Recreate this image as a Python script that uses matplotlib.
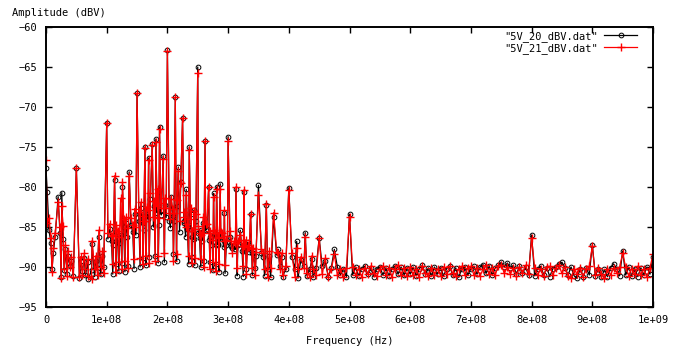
import matplotlib
matplotlib.use("Agg")
import matplotlib.pyplot as plt
import numpy as np

plt.rcParams['font.family'] = ['DejaVu Sans Mono']
plt.rcParams['font.size'] = 7.5

# noise floor, one value every 5 MHz from 0 to 1000 MHz (dBV)
floor_20 = [
    -85.0, -88.0, -90.2, -91.0, -90.0, -91.3, -90.4, -90.9, -89.9, -91.1,
    -90.3, -91.4, -90.5, -91.0, -91.5, -90.4, -91.2, -90.1, -90.9, -90.0,
    -90.6, -89.7, -90.9, -89.6, -90.5, -89.5, -90.6, -89.9, -89.3, -90.2,
    -89.2, -90.0, -88.9, -89.8, -88.7, -89.6, -88.6, -89.5, -88.5, -89.4,
    -88.6, -89.4, -88.4, -89.3, -88.5, -89.5, -88.7, -89.6, -88.8, -89.8,
    -89.0, -90.0, -89.2, -90.2, -89.4, -90.4, -89.6, -90.6, -89.8, -90.8,
    -89.9, -90.9, -90.0, -91.1, -90.1, -91.2, -90.2, -89.8, -91.0, -90.1,
    -90.9, -90.0, -91.1, -90.2, -91.3, -90.1, -91.0, -89.9, -91.2, -90.2,
    -90.1, -91.1, -90.2, -91.4, -90.3, -89.9, -91.1, -90.2, -91.3, -90.1,
    -91.0, -89.9, -90.9, -91.2, -90.1, -91.1, -90.0, -91.0, -90.2, -91.2,
    -90.1, -91.0, -90.0, -91.1, -90.2, -89.9, -90.9, -90.1, -91.2, -90.2,
    -90.0, -91.0, -90.1, -91.1, -90.2, -89.9, -90.9, -90.0, -91.0, -90.1,
    -90.9, -90.0, -91.1, -90.2, -89.8, -90.9, -90.1, -91.1, -90.0, -90.9,
    -90.1, -91.1, -90.2, -89.9, -91.0, -90.1, -91.3, -90.2, -90.0, -91.0,
    -90.2, -89.9, -90.9, -90.0, -89.7, -90.8, -89.9, -91.0, -90.1, -89.8,
    -89.4, -90.0, -89.5, -90.1, -89.8, -90.9, -89.9, -90.8, -90.0, -91.0,
    -90.1, -91.1, -90.2, -89.9, -91.0, -90.1, -91.2, -90.2, -90.0, -89.6,
    -89.4, -90.1, -91.0, -90.0, -91.1, -91.4, -90.2, -91.2, -90.1, -91.0,
    -90.0, -91.1, -90.2, -91.3, -90.3, -91.2, -90.1, -89.6, -90.2, -91.1,
    -90.1, -91.0, -90.0, -91.1, -90.2, -91.2, -90.1, -91.0, -90.0, -90.9,
    -90.2,
]
floor_21 = [
    -84.0, -87.5, -90.6, -91.2, -90.1, -91.4, -90.3, -91.1, -90.0, -91.3,
    -90.5, -91.2, -91.0, -90.2, -91.1, -91.5, -90.3, -91.0, -90.0, -90.8,
    -89.8, -90.7, -89.6, -90.6, -89.4, -90.3, -89.2, -90.1, -89.3, -89.0,
    -89.8, -88.9, -89.6, -88.6, -89.5, -88.4, -89.3, -88.6, -89.4, -88.3,
    -89.2, -88.5, -89.3, -88.4, -89.1, -88.5, -89.4, -88.6, -89.5, -88.9,
    -89.8, -89.0, -90.0, -89.2, -90.3, -89.4, -90.5, -89.6, -90.7, -89.8,
    -90.8, -90.0, -91.0, -90.1, -91.2, -89.9, -90.9, -91.3, -90.1, -91.0,
    -90.0, -91.1, -90.2, -91.2, -90.1, -90.9, -91.3, -90.2, -91.0, -89.9,
    -90.8, -90.1, -91.2, -90.2, -91.0, -90.1, -90.7, -91.2, -90.2, -91.0,
    -89.9, -90.9, -90.1, -91.2, -90.3, -89.8, -91.0, -90.2, -91.3, -90.1,
    -90.7, -90.0, -91.0, -90.2, -91.2, -90.1, -90.9, -89.9, -90.8, -91.1,
    -90.2, -89.9, -91.0, -90.1, -91.2, -90.2, -89.8, -91.0, -90.1, -91.1,
    -90.0, -91.0, -90.2, -91.2, -89.9, -90.8, -91.1, -90.1, -91.0, -90.2,
    -91.1, -90.0, -90.9, -89.9, -90.8, -91.1, -90.2, -89.9, -91.0, -90.1,
    -89.9, -91.0, -90.1, -91.1, -90.3, -89.8, -90.9, -90.1, -91.0, -89.9,
    -89.7, -90.8, -90.0, -90.9, -90.1, -91.1, -90.0, -90.8, -89.8, -90.9,
    -90.9, -90.1, -91.0, -90.2, -91.1, -90.0, -89.9, -91.0, -90.1, -89.8,
    -90.8, -90.0, -91.1, -91.4, -90.2, -90.9, -90.1, -91.2, -90.3, -89.9,
    -90.4, -91.0, -90.1, -90.9, -91.4, -90.2, -91.0, -90.1, -90.7, -90.0,
    -90.8, -90.0, -91.1, -90.2, -90.9, -89.9, -91.0, -90.2, -91.3, -90.1,
    -90.3,
]

# spurs (MHz, 5V_20 level, 5V_21 level)
spur_f = [0, 2, 5, 20, 26, 28, 50, 76, 87, 100, 113, 123, 126, 137, 150,
          163, 169, 175, 181, 187, 193, 200, 206, 213, 218, 222, 225, 231,
          236, 244, 250, 256, 262, 268, 276, 281, 287, 294, 300, 307, 313,
          320, 326, 332, 337, 350, 363, 375, 383, 400, 413, 427, 450, 475,
          500, 800, 900, 950, 1000]
spur_20 = [-77.6, -80.6, -85.4, -81.2, -80.7, -86.5, -77.6, -87.1, -86.2,
           -72.0, -79.1, -86.0, -80.0, -78.1, -68.3, -75.0, -76.4, -74.6,
           -74.0, -72.5, -76.1, -62.9, -81.2, -68.8, -77.5, -79.4, -71.4,
           -80.3, -75.0, -82.9, -65.0, -85.4, -74.3, -80.0, -80.8, -80.0,
           -79.6, -83.3, -73.7, -87.6, -80.3, -85.4, -80.6, -86.9, -83.4,
           -79.8, -82.2, -83.8, -87.8, -80.1, -86.8, -85.7, -86.4, -87.8,
           -83.4, -86.0, -87.2, -88.0, -88.8]
spur_21 = [-76.6, -84.5, -83.9, -81.9, -82.4, -84.9, -77.6, -86.7, -85.4,
           -72.0, -78.6, -81.4, -79.4, -78.6, -68.3, -75.1, -76.6, -74.7,
           -74.4, -72.8, -76.5, -63.0, -81.5, -68.8, -78.0, -79.5, -71.4,
           -81.0, -75.4, -83.0, -65.7, -86.0, -74.3, -80.0, -81.2, -80.3,
           -80.2, -82.9, -74.3, -88.2, -80.0, -86.0, -80.4, -87.5, -83.4,
           -81.0, -82.1, -83.2, -88.2, -80.4, -87.6, -86.2, -86.4, -88.4,
           -83.7, -86.4, -87.4, -88.3, -88.4]

# smaller spurs in the crowded 0-460 MHz band
minor_f = [8, 12, 15, 23, 32, 36, 42, 57, 63, 69, 82, 93, 105, 108, 118,
           131, 143, 146, 156, 159, 166, 172, 178, 184, 190, 196, 203, 209,
           216, 228, 233, 239, 241, 247, 253, 259, 265, 271, 274, 279, 284,
           290, 297, 303, 310, 316, 323, 329, 335, 341, 346, 355, 358, 368,
           380, 388, 405, 420, 438, 460,
           102, 111, 116, 121, 128, 134, 140, 148, 153, 161, 168, 177, 183,
           186, 189, 198, 205, 211, 220, 227, 230, 238, 243, 251, 257, 263,
           269, 277, 283, 288, 293, 299, 305, 312, 318, 327, 333, 339]
minor_20 = [-87.0, -88.3, -86.2, -85.8, -87.8, -88.6, -89.2, -89.3, -88.9,
            -89.4, -89.2, -88.6, -85.3, -86.8, -86.4, -84.5, -85.6, -83.4,
            -82.6, -84.5, -83.4, -81.5, -82.4, -80.6, -83.5, -82.3, -84.2,
            -83.6, -82.4, -84.5, -85.2, -83.4, -86.3, -84.2, -86.4, -84.5,
            -85.3, -86.2, -87.3, -86.4, -87.1, -86.5, -87.3, -86.2, -87.4,
            -87.3, -88.0, -87.2, -88.1, -88.2, -88.6, -88.3, -88.7, -88.6,
            -88.5, -88.8, -88.7, -89.1, -89.0, -89.3,
            -86.5, -87.2, -85.6, -87.0, -85.0, -86.2, -84.8, -86.0, -84.2,
            -85.4, -84.0, -85.0, -83.2, -84.8, -82.9, -83.8, -85.1, -84.3,
            -85.6, -84.2, -86.2, -85.2, -86.5, -85.8, -86.7, -85.4, -86.6,
            -86.0, -87.2, -86.3, -87.5, -86.9, -87.4, -87.8, -87.1, -88.0,
            -87.7, -88.3]
minor_21 = [-86.4, -87.6, -85.8, -85.0, -87.2, -88.0, -88.8, -88.7, -88.3,
            -89.0, -88.6, -88.0, -84.6, -86.1, -85.5, -83.8, -84.7, -82.7,
            -81.9, -83.6, -82.5, -80.8, -81.7, -80.2, -82.6, -81.4, -83.3,
            -82.8, -81.6, -83.7, -84.6, -82.6, -85.5, -83.4, -85.7, -83.8,
            -84.6, -85.5, -86.6, -85.7, -86.4, -85.8, -86.6, -85.5, -86.8,
            -86.7, -87.4, -86.6, -87.5, -87.6, -88.1, -87.8, -88.2, -88.0,
            -88.1, -88.3, -88.3, -88.7, -88.6, -88.9,
            -85.8, -86.0, -84.8, -86.2, -84.0, -85.1, -83.9, -85.0, -83.1,
            -84.2, -82.9, -83.8, -82.4, -83.9, -82.0, -82.6, -84.0, -83.2,
            -84.3, -83.1, -85.0, -84.0, -85.3, -84.9, -85.8, -84.6, -85.7,
            -85.4, -86.3, -85.6, -86.8, -86.1, -86.7, -87.0, -86.6, -87.4,
            -87.3, -87.8]


def build(floor, spur, minor):
    pts = {5 * i: v for i, v in enumerate(floor)}
    pts.update(dict(zip(minor_f, minor)))
    pts.update(dict(zip(spur_f, spur)))
    keys = sorted(pts)
    return np.array(keys) * 1e6, np.array([pts[k] for k in keys])


f20, a20 = build(floor_20, spur_20, minor_20)
f21, a21 = build(floor_21, spur_21, minor_21)

fig = plt.figure(figsize=(6.81, 3.49), dpi=100)
ax = fig.add_axes([46 / 681, 42 / 349, 607 / 681, 280 / 349])

ax.plot(f20, a20, color='black', lw=0.9, marker='o', ms=3.4, mfc='none',
        mew=0.7, label='"5V_20_dBV.dat"')
ax.plot(f21, a21, color='red', lw=0.9, marker='+', ms=5.2, mew=1.0,
        label='"5V_21_dBV.dat"')

ax.set_xlim(0, 1e9)
ax.set_ylim(-95, -60)
ax.set_xticks(np.arange(0, 1.01e9, 1e8))
ax.set_xticklabels(['0'] + ['%de+08' % i for i in range(1, 10)] + ['1e+09'])
ax.set_yticks(np.arange(-95, -59, 5))
ax.tick_params(direction='in', length=4, width=1, top=True, right=True,
               pad=6)
for s in ax.spines.values():
    s.set_linewidth(1.4)

ax.set_xlabel('Frequency (Hz)', labelpad=8)
fig.text(12 / 681, 1 - 13 / 349, 'Amplitude (dBV)', ha='left', va='center')

ax.legend(loc='upper right', bbox_to_anchor=(0.98, 1.0), markerfirst=False,
          frameon=False, handlelength=3.2, numpoints=1, borderaxespad=0.15,
          labelspacing=0.15, handletextpad=0.6, borderpad=0.2)

fig.savefig('out.png', dpi=100)
